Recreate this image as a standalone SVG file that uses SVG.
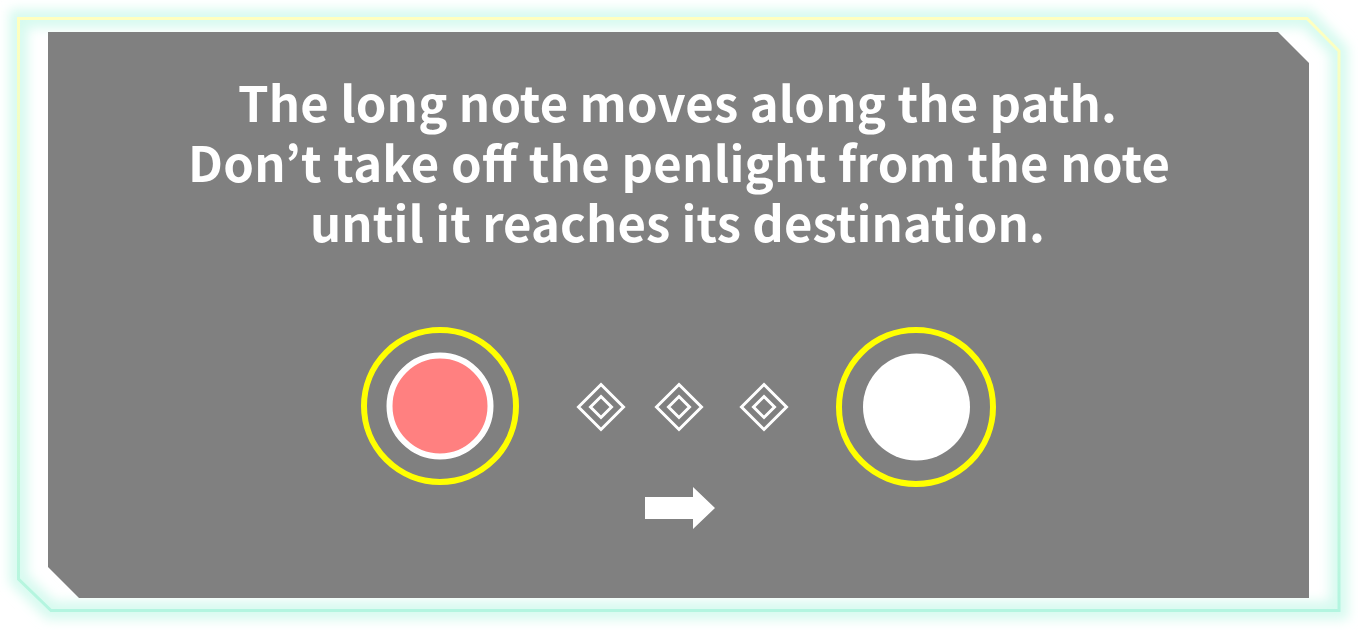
<svg xmlns="http://www.w3.org/2000/svg" width="1358" height="630" viewBox="0 0 1358 630">
  <defs>
    <linearGradient id="frameGrad" x1="0" y1="18" x2="0" y2="611" gradientUnits="userSpaceOnUse">
      <stop offset="0" stop-color="#ffffc0"/>
      <stop offset="1" stop-color="#b3f5e0"/>
    </linearGradient>
    <filter id="glow" x="-5%" y="-10%" width="110%" height="120%">
      <feGaussianBlur stdDeviation="6"/>
    </filter>
    <style>
      .msg { font-family: "Noto Sans CJK KR", "Noto Sans", sans-serif; font-weight: 700; font-size: 49px; fill: #ffffff; text-anchor: middle; }
      .ring { fill: none; stroke: #ffff00; stroke-width: 6; }
      .dia { fill: none; stroke: #ffffff; stroke-width: 3; }
    </style>
  </defs>
  <rect width="1358" height="630" fill="#ffffff"/>
  <g id="frame">
    <polygon points="18.5,18.5 1307,18.5 1339,51 1339,610.5 51,610.5 18.5,579" fill="none" stroke="#d6faef" stroke-width="18" filter="url(#glow)"/>
    <polygon points="18.5,18.5 1307,18.5 1339,51 1339,610.5 51,610.5 18.5,579" fill="none" stroke="url(#frameGrad)" stroke-width="3"/>
  </g>
  <g id="panel">
    <polygon points="48,32 1278,32 1309,63 1309,598 79,598 48,567" fill="#808080"/>
  </g>
  <g id="message">
    <text class="msg" x="677.5" y="122" textLength="879" lengthAdjust="spacing">The long note moves along the path.</text>
    <text class="msg" x="679" y="182" textLength="982" lengthAdjust="spacing">Don’t take off the penlight from the note</text>
    <text class="msg" x="677.5" y="242" textLength="735" lengthAdjust="spacing">until it reaches its destination.</text>
  </g>
  <g id="start-note">
    <circle class="ring" cx="440" cy="406" r="76"/>
    <circle cx="440" cy="406" r="50.5" fill="#ff8080" stroke="#ffffff" stroke-width="6"/>
  </g>
  <g id="path-markers">
    <g id="marker1">
      <polygon class="dia" points="601,384.5 623.5,407 601,429.5 578.5,407"/>
      <polygon class="dia" points="601,396.5 611.5,407 601,417.5 590.5,407"/>
    </g>
    <g id="marker2">
      <polygon class="dia" points="679,384.5 701.5,407 679,429.5 656.5,407"/>
      <polygon class="dia" points="679,396.5 689.5,407 679,417.5 668.5,407"/>
    </g>
    <g id="marker3">
      <polygon class="dia" points="764,384.5 786.5,407 764,429.5 741.5,407"/>
      <polygon class="dia" points="764,396.5 774.5,407 764,417.5 753.5,407"/>
    </g>
  </g>
  <g id="end-note">
    <circle class="ring" cx="916" cy="407" r="77"/>
    <circle cx="916.5" cy="407" r="53.5" fill="#ffffff"/>
  </g>
  <g id="connectors">
    <polygon id="direction-arrow" points="645,497 693,497 693,487 715,508 693,529 693,519 645,519" fill="#ffffff"/>
  </g>
</svg>
